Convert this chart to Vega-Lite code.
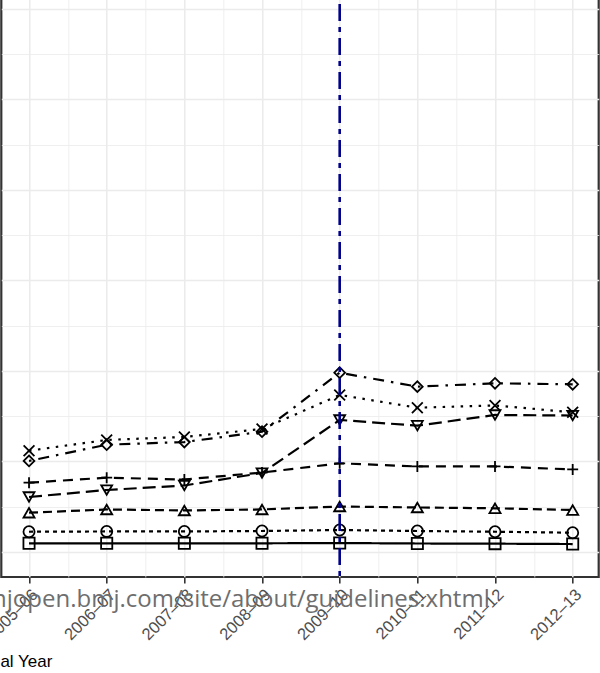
{
  "$schema": "https://vega.github.io/schema/vega-lite/v6.json",
  "width": 597.4,
  "height": 597,
  "autosize": {"type": "none"},
  "padding": {"left": 1.3, "top": -20, "right": 1.3, "bottom": 96},
  "background": "white",
  "config": {
    "font": "Liberation Sans",
    "view": {"stroke": "#333333", "strokeWidth": 2.2}
  },
  "title": {
    "text": "bmjopen.bmj.com/site/about/guidelines.xhtml",
    "orient": "bottom",
    "anchor": "end",
    "frame": "group",
    "dx": -109,
    "offset": -62,
    "baseline": "alphabetic",
    "font": "Open Sans",
    "fontSize": 24,
    "fontWeight": "normal",
    "color": "#6e6e6e"
  },
  "data": {
    "values": [
      {"year": 2005, "group": "Group 1", "value": 0.96},
      {"year": 2006, "group": "Group 1", "value": 0.96},
      {"year": 2007, "group": "Group 1", "value": 0.96},
      {"year": 2008, "group": "Group 1", "value": 0.96},
      {"year": 2009, "group": "Group 1", "value": 0.99},
      {"year": 2010, "group": "Group 1", "value": 0.94},
      {"year": 2011, "group": "Group 1", "value": 0.92},
      {"year": 2012, "group": "Group 1", "value": 0.88},
      {"year": 2005, "group": "Group 2", "value": 2.24},
      {"year": 2006, "group": "Group 2", "value": 2.27},
      {"year": 2007, "group": "Group 2", "value": 2.27},
      {"year": 2008, "group": "Group 2", "value": 2.32},
      {"year": 2009, "group": "Group 2", "value": 2.43},
      {"year": 2010, "group": "Group 2", "value": 2.32},
      {"year": 2011, "group": "Group 2", "value": 2.24},
      {"year": 2012, "group": "Group 2", "value": 2.13},
      {"year": 2005, "group": "Group 3", "value": 4.34},
      {"year": 2006, "group": "Group 3", "value": 4.70},
      {"year": 2007, "group": "Group 3", "value": 4.59},
      {"year": 2008, "group": "Group 3", "value": 4.70},
      {"year": 2009, "group": "Group 3", "value": 5.03},
      {"year": 2010, "group": "Group 3", "value": 4.92},
      {"year": 2011, "group": "Group 3", "value": 4.83},
      {"year": 2012, "group": "Group 3", "value": 4.64},
      {"year": 2005, "group": "Group 4", "value": 7.66},
      {"year": 2006, "group": "Group 4", "value": 8.21},
      {"year": 2007, "group": "Group 4", "value": 8.01},
      {"year": 2008, "group": "Group 4", "value": 8.78},
      {"year": 2009, "group": "Group 4", "value": 9.80},
      {"year": 2010, "group": "Group 4", "value": 9.45},
      {"year": 2011, "group": "Group 4", "value": 9.45},
      {"year": 2012, "group": "Group 4", "value": 9.12},
      {"year": 2005, "group": "Group 5", "value": 6.08},
      {"year": 2006, "group": "Group 5", "value": 6.85},
      {"year": 2007, "group": "Group 5", "value": 7.35},
      {"year": 2008, "group": "Group 5", "value": 8.73},
      {"year": 2009, "group": "Group 5", "value": 14.59},
      {"year": 2010, "group": "Group 5", "value": 13.96},
      {"year": 2011, "group": "Group 5", "value": 15.14},
      {"year": 2012, "group": "Group 5", "value": 15.08},
      {"year": 2005, "group": "Group 6", "value": 11.19},
      {"year": 2006, "group": "Group 6", "value": 12.38},
      {"year": 2007, "group": "Group 6", "value": 12.71},
      {"year": 2008, "group": "Group 6", "value": 13.59},
      {"year": 2009, "group": "Group 6", "value": 17.35},
      {"year": 2010, "group": "Group 6", "value": 15.94},
      {"year": 2011, "group": "Group 6", "value": 16.19},
      {"year": 2012, "group": "Group 6", "value": 15.44},
      {"year": 2005, "group": "Group 7", "value": 10.06},
      {"year": 2006, "group": "Group 7", "value": 11.86},
      {"year": 2007, "group": "Group 7", "value": 12.15},
      {"year": 2008, "group": "Group 7", "value": 13.29},
      {"year": 2009, "group": "Group 7", "value": 19.81},
      {"year": 2010, "group": "Group 7", "value": 18.27},
      {"year": 2011, "group": "Group 7", "value": 18.64},
      {"year": 2012, "group": "Group 7", "value": 18.53}
    ]
  },
  "encoding": {
    "x": {
      "field": "year",
      "type": "quantitative",
      "scale": {"domain": [2004.643, 2012.335], "nice": false, "zero": false},
      "axis": {
        "values": [2005, 2005.5, 2006, 2006.5, 2007, 2007.5, 2008, 2008.5, 2009, 2009.5, 2010, 2010.5, 2011, 2011.5, 2012],
        "labelExpr": "datum.value % 1 != 0 ? '' : datum.value + '–' + format((datum.value + 1) % 100, '02d')",
        "labelAngle": -45,
        "labelAlign": "right",
        "labelBaseline": "top",
        "labelFont": "Liberation Sans",
        "labelFontSize": 16.5,
        "labelColor": "#4d4d4d",
        "labelPadding": 3,
        "labelOverlap": false,
        "labelBound": false,
        "labelFlush": false,
        "domain": false,
        "tickColor": "#333333",
        "tickWidth": 1.6,
        "tickSize": 6,
        "tickOpacity": {"condition": {"test": "datum.value % 1 != 0", "value": 0}, "value": 1},
        "gridColor": "#ebebeb",
        "gridWidth": {"condition": {"test": "datum.value % 1 != 0", "value": 0.8}, "value": 1.5},
        "title": "Financial Year",
        "titleFont": "Liberation Sans",
        "titleFontSize": 17,
        "titleFontWeight": "normal",
        "titleColor": "#000000",
        "titleAnchor": "start",
        "titleAlign": "left",
        "titleBaseline": "alphabetic",
        "titleX": -56.2,
        "titleY": 89
      }
    },
    "y": {
      "field": "value",
      "type": "quantitative",
      "scale": {"domain": [-2.762, 63.2], "nice": false, "zero": false},
      "axis": {
        "values": [0, 5, 10, 15, 20, 25, 30, 35, 40, 45, 50, 55, 60],
        "labels": false,
        "ticks": false,
        "domain": false,
        "title": null,
        "gridColor": "#ebebeb",
        "gridWidth": {"condition": {"test": "datum.value % 10 != 0", "value": 0.8}, "value": 1.5}
      }
    }
  },
  "layer": [
    {
      "mark": {"type": "line", "color": "#000000", "strokeWidth": 2.2, "strokeCap": "butt"},
      "encoding": {
        "strokeDash": {
          "field": "group",
          "type": "nominal",
          "scale": {
            "domain": ["Group 1", "Group 2", "Group 3", "Group 4", "Group 5", "Group 6", "Group 7"],
            "range": [[1, 0], [4, 4], [9, 5], [10, 7], [13, 6], [2.5, 6.5], [2.5, 7, 11, 7]]
          },
          "legend": null
        }
      }
    },
    {
      "mark": {"type": "point", "filled": false, "color": "#000000", "strokeWidth": 1.8, "opacity": 1},
      "encoding": {
        "shape": {
          "field": "group",
          "type": "nominal",
          "scale": {
            "domain": ["Group 1", "Group 2", "Group 3", "Group 4", "Group 5", "Group 6", "Group 7"],
            "range": ["square", "circle", "triangle-up", "M-1,0L1,0M0,-1L0,1", "triangle-down", "M-1,-1L1,1M-1,1L1,-1", "diamond"]
          },
          "legend": null
        },
        "size": {
          "field": "group",
          "type": "ordinal",
          "scale": {
            "domain": ["Group 1", "Group 2", "Group 3", "Group 4", "Group 5", "Group 6", "Group 7"],
            "range": [125, 115, 200, 180, 200, 145, 185]
          },
          "legend": null
        }
      }
    },
    {
      "data": {"values": [{"year": 2009}]},
      "mark": {"type": "rule", "color": "#00008b", "strokeWidth": 2.6, "strokeDash": [17, 6, 5, 6], "strokeDashOffset": 10},
      "encoding": {
        "x": {"field": "year", "type": "quantitative"},
        "y": null
      }
    }
  ]
}
